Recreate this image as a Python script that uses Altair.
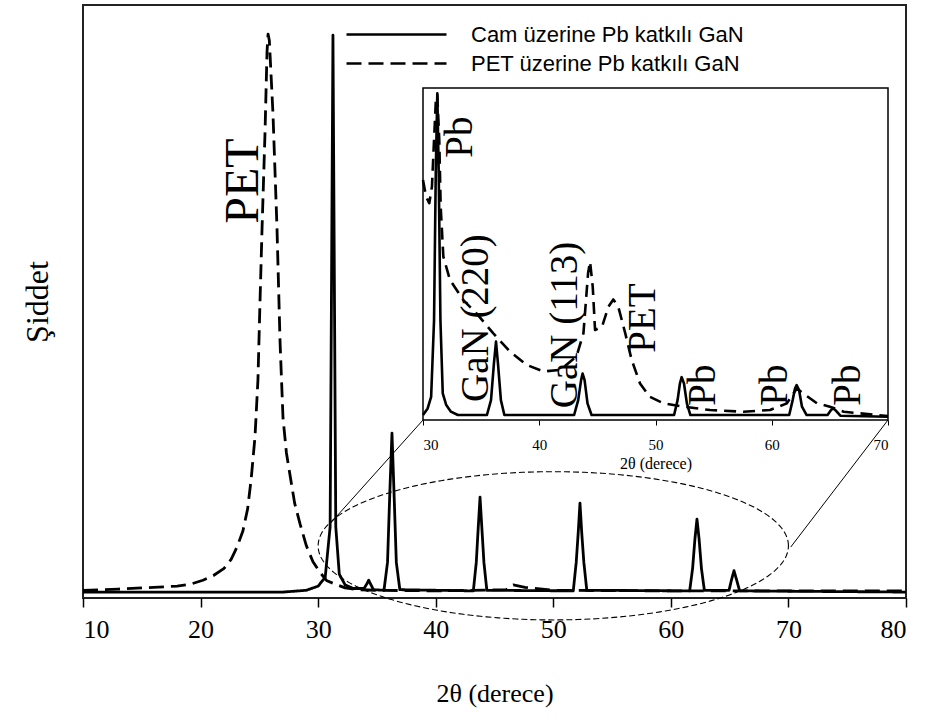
import altair as alt
import pandas as pd
import numpy as np

# ---------------- data ----------------
SERIES = ["Cam üzerine Pb katkılı GaN", "PET üzerine Pb katkılı GaN"]

# main panel: solid curve (glass substrate)
cam_x = [10, 20, 27, 29, 30, 30.6, 31.02, 31.13, 31.26, 31.39, 31.5, 31.8, 32.3, 33.0,
         33.9, 34.15, 34.3, 34.45, 34.7, 35.6, 35.9, 36.1, 36.28, 36.45, 36.65, 36.95,
         43.2, 43.45, 43.62, 43.77, 43.92, 44.1, 44.35,
         51.7, 51.95, 52.12, 52.27, 52.42, 52.6, 52.85,
         61.6, 61.85, 62.05, 62.22, 62.4, 62.6, 62.85,
         64.95, 65.15, 65.37, 65.6, 65.85, 80]
cam_y = [1.0, 1.0, 1.0, 1.3, 2.0, 3.5, 12, 50, 94.9, 50, 12, 4, 2.2, 1.6,
         1.6, 2.4, 3.0, 2.4, 1.4, 1.3, 6, 18, 27.8, 18, 6, 1.4,
         1.2, 6, 12, 17.0, 12, 6, 1.3,
         1.2, 6, 11, 16.0, 11, 6, 1.3,
         1.2, 5, 10, 13.3, 10, 5, 1.3,
         1.3, 3, 4.6, 3, 1.2, 1.0]

# main panel: dashed curve (PET substrate)
pet_x = [10, 13, 16, 18, 19.1, 20.2, 21.1, 22.0, 22.6, 23.1, 23.6, 24.0, 24.3, 24.63,
         24.88, 25.05, 25.23, 25.48, 25.65, 25.74, 25.85, 26.0, 26.16, 26.5, 26.76,
         27.01, 27.3, 27.61, 28.0, 28.46, 29.0, 29.56, 30.2, 30.75, 31.5, 32.3, 33.5,
         35, 40, 46.0, 46.6, 47.6, 50, 60, 70, 80]
pet_y = [1.3, 1.5, 1.8, 2.0, 2.3, 3.0, 3.8, 5.0, 6.5, 8.6, 11.3, 15, 20, 27.2,
         36.8, 49.6, 62.4, 78.4, 92, 95.1, 94, 88, 81.6, 62.4, 43.2,
         30.4, 24.5, 20.7, 16, 12.5, 8.8, 6.1, 4.2, 2.9, 2.3, 1.7, 1.4,
         1.3, 1.2, 1.4, 2.2, 1.8, 1.3, 1.2, 1.2, 1.2]

# inset (30-70 deg): solid curve
ins_cam_x = [30.0, 30.4, 30.7, 30.95, 31.1, 31.23, 31.35, 31.5, 31.7, 32.0, 32.4, 33.0,
             35.5, 35.85, 36.1, 36.28, 36.45, 36.7, 37.0,
             43.0, 43.35, 43.6, 43.73, 43.9, 44.15, 44.5,
             51.6, 51.9, 52.1, 52.25, 52.45, 52.7, 53.0,
             61.5, 61.8, 62.0, 62.14, 62.35, 62.6, 63.0,
             64.8, 65.1, 65.3, 65.55, 65.9, 70.0]
ins_cam_y = [1.5, 3.5, 7, 30, 75, 98.4, 75, 30, 8, 4.5, 2.5, 1.5,
             1.5, 6, 17, 23.6, 17, 6, 1.5,
             1.5, 6, 12, 14, 12, 5, 1.5,
             1.5, 6, 11, 12.9, 11, 5, 1.5,
             1.5, 6, 9.5, 10.5, 9, 4, 1.5,
             1.5, 3, 3.5, 2.7, 1.3, 1.0]

# inset: dashed curve
ins_pet_x = [30.0, 30.26, 30.54, 30.77, 30.95, 31.12, 31.23, 31.4, 31.52, 31.75, 32.32,
             33.47, 34.6, 36.05, 37.48, 38.92, 40.35, 41.8, 43.2, 43.8, 44.2, 44.37,
             44.6, 44.8, 45.4, 45.95, 46.37, 46.8, 47.4, 47.95, 48.67, 49.5, 50.7,
             52.4, 54.7, 57.55, 59.85, 61.3, 62.15, 62.7, 63.9, 65.0, 66.2, 69.0, 70.0]
ins_pet_y = [72.3, 67.3, 65.3, 70.3, 84.3, 97.4, 97.9, 84.3, 64.3, 49.2, 42.2,
             36.1, 32.1, 26.1, 20.6, 16.6, 14.6, 15.1, 19.1, 26.1, 44.2, 47.7,
             40.2, 27.1, 28.1, 34.1, 36.3, 34.1, 26.1, 18.1, 11.0, 7.0, 5.0,
             4.0, 3.0, 2.5, 3.0, 5.0, 9.5, 8.0, 5.0, 4.0, 2.5, 1.5, 1.2]

# peak labels
main_lab_text = ["PET"]
main_lab_x = [23.7]
main_lab_y = [70.3]

ins_lab_text = ["Pb", "GaN (220)", "GaN (113)", "PET", "Pb", "Pb", "Pb"]
ins_lab_x = [33.2, 34.6, 42.2, 48.9, 54.1, 60.3, 66.6]
ins_lab_y = [85.2, 30.7, 28.6, 30.7, 10.5, 10.5, 10.5]

x_ticks = [10, 20, 30, 40, 50, 60, 70, 80]
ins_ticks = [30, 40, 50, 60, 70]

# ---------------- layout constants ----------------
W, H = 823, 593
X0, X1 = 10, 80
Y0, Y1 = 0, 100
INS_RX = [340, 805]     # inset x range (px inside plot area)
INS_RY = [415, 83]      # inset y range (px inside plot area)
SERIF = "Liberation Serif"
SANS = "Liberation Sans"


def px_to_x(p):
    return X0 + (X1 - X0) * p / W


def px_to_y(p):
    return Y1 - (Y1 - Y0) * p / H


main_df = pd.concat([
    pd.DataFrame({"x": cam_x, "y": cam_y, "s": SERIES[0], "o": range(len(cam_x))}),
    pd.DataFrame({"x": pet_x, "y": pet_y, "s": SERIES[1], "o": range(len(pet_x))}),
])

xs = alt.Scale(domain=[X0, X1], nice=False, zero=False)
ys = alt.Scale(domain=[Y0, Y1], nice=False, zero=False)

x_axis = alt.Axis(values=x_ticks, title="2θ (derece)", grid=False, domain=False,
                  tickColor="black", tickWidth=1.5, tickSize=9,
                  labelFont=SERIF, labelFontSize=26, labelColor="black", labelPadding=9,
                  titleFont=SERIF, titleFontSize=26, titleFontWeight="normal",
                  titleColor="black", titlePadding=38, format="d")
y_axis = alt.Axis(title="Şiddet", labels=False, ticks=False, domain=False, grid=False,
                  titleFont=SERIF, titleFontSize=32, titleFontWeight="normal",
                  titleColor="black", titlePadding=29)

X = alt.X("x:Q", scale=xs, axis=x_axis)
Y = alt.Y("y:Q", scale=ys, axis=y_axis)

curves = alt.Chart(main_df).mark_line(color="black", strokeWidth=2.8, strokeJoin="round").encode(
    x=X, y=Y,
    strokeDash=alt.StrokeDash(
        "s:N",
        scale=alt.Scale(domain=SERIES, range=[[1, 0], [15, 7]]),
        legend=alt.Legend(title=None, orient="none", legendX=302, legendY=18,
                          symbolType="M-5,0H5", symbolSize=400, symbolStrokeWidth=2.5,
                          symbolStrokeColor="black", labelFont=SANS, labelFontSize=22,
                          labelColor="black", labelOffset=63, labelLimit=600,
                          rowPadding=6, padding=0),
    ),
    order="o:Q",
)

main_labels = alt.Chart(pd.DataFrame({"t": main_lab_text, "x": main_lab_x, "y": main_lab_y})).mark_text(
    angle=270, font=SERIF, fontSize=48, align="center", baseline="middle", color="black"
).encode(x=X, y=Y, text="t:N")

# magnifier ellipse around 30-70 deg
t = np.linspace(0, 2 * np.pi, 241)
ell_df = pd.DataFrame({"x": 50 + 20 * np.cos(t), "y": 8.8 + 12.5 * np.sin(t), "o": np.arange(len(t))})
ellipse = alt.Chart(ell_df).mark_line(color="black", strokeWidth=1.1, strokeDash=[6, 3]).encode(
    x=X, y=Y, order="o:Q")

# connector lines from inset corners to the ellipse
conn_df = pd.DataFrame({
    "x": [px_to_x(INS_RX[0]), px_to_x(INS_RX[1])],
    "y": [px_to_y(INS_RY[0]), px_to_y(INS_RY[0])],
    "x2": [31.0, 70.2],
    "y2": [12.5, 8.6],
})
connectors = alt.Chart(conn_df).mark_rule(color="black", strokeWidth=1).encode(
    x=X, y=Y, x2="x2:Q", y2="y2:Q")

main_layer = alt.layer(curves, ellipse, connectors, main_labels)

# ---------------- inset ----------------
ixs = alt.Scale(domain=[30, 70], range=INS_RX, nice=False, zero=False)
iys = alt.Scale(domain=[0, 100], range=INS_RY, nice=False, zero=False)
ins_axis = alt.Axis(values=ins_ticks, orient="bottom", offset=INS_RY[0] - H, title="2θ (derece)",
                    grid=False, domain=False, tickColor="black", tickWidth=1, tickSize=5,
                    labelFont=SERIF, labelFontSize=15, labelColor="black", labelPadding=12,
                    titleFont=SERIF, titleFontSize=16, titleFontWeight="normal",
                    titleColor="black", titlePadding=3, format="d")
IX = alt.X("x:Q", scale=ixs, axis=ins_axis)
IY = alt.Y("y:Q", scale=iys, axis=None)

frame = alt.Chart(pd.DataFrame({"x": [30], "x2": [70], "y": [0], "y2": [100]})).mark_rect(
    fillOpacity=0, stroke="black", strokeWidth=1.5).encode(x=IX, x2="x2:Q", y=IY, y2="y2:Q")

ins_cam = alt.Chart(pd.DataFrame({"x": ins_cam_x, "y": ins_cam_y})).mark_line(
    color="black", strokeWidth=2.6, strokeJoin="round").encode(x=IX, y=IY)
ins_pet = alt.Chart(pd.DataFrame({"x": ins_pet_x, "y": ins_pet_y})).mark_line(
    color="black", strokeWidth=2.6, strokeDash=[12, 7], strokeJoin="round").encode(x=IX, y=IY)
ins_labels = alt.Chart(pd.DataFrame({"t": ins_lab_text, "x": ins_lab_x, "y": ins_lab_y})).mark_text(
    angle=270, font=SERIF, fontSize=39, align="center", baseline="middle", color="black"
).encode(x=IX, y=IY, text="t:N")

inset_layer = alt.layer(frame, ins_cam, ins_pet, ins_labels)

chart = alt.layer(main_layer, inset_layer).resolve_scale(x="independent", y="independent").properties(
    width=W, height=H, autosize="none",
    padding={"left": 83, "top": 5, "right": 19, "bottom": 124},
).configure_view(stroke="#222222", strokeWidth=2)

chart.save("out.html", embed_options={"renderer": "svg", "actions": False})
